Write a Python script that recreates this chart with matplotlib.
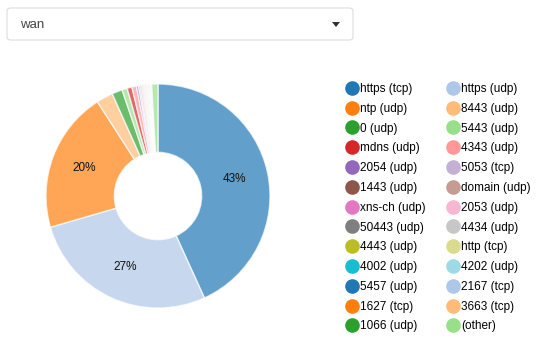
import matplotlib.pyplot as plt
from matplotlib.lines import Line2D
from matplotlib.patches import FancyBboxPatch, Polygon

plt.rcParams['font.family'] = ['Liberation Sans', 'DejaVu Sans']

# --- Data ---
labels = ['https (tcp)', 'https (udp)', 'ntp (udp)', '8443 (udp)', '0 (udp)',
          '5443 (udp)', 'mdns (udp)', '4343 (udp)', '2054 (udp)', '5053 (tcp)',
          '1443 (udp)', 'domain (udp)', 'xns-ch (udp)', '2053 (udp)',
          '50443 (udp)', '4434 (udp)', '4443 (udp)', 'http (tcp)', '4002 (udp)',
          '4202 (udp)', '5457 (udp)', '2167 (tcp)', '1627 (tcp)', '3663 (tcp)',
          '1066 (udp)', '(other)']
shares = [43.2, 27.3, 20.4, 2.4, 1.5, 0.75, 0.7, 0.65, 0.3, 0.25, 0.2, 0.2,
          0.15, 0.15, 0.12, 0.12, 0.1, 0.1, 0.1, 0.08, 0.08, 0.07, 0.06, 0.06,
          0.05, 0.9]
selected = 'wan'

cmap = plt.get_cmap('tab20')
colors = [cmap(i % 20) for i in range(len(labels))]

fig = plt.figure(figsize=(5.36, 3.40), dpi=100)

# --- Dropdown box ---
fig.patches.append(FancyBboxPatch((7 / 536, 1 - 40 / 340), 346 / 536, 32 / 340,
                                  boxstyle='round,pad=0,rounding_size=0.008',
                                  transform=fig.transFigure, facecolor='white',
                                  edgecolor='#dddddd', linewidth=0.8))
fig.text(20 / 536, 1 - 25 / 340, selected, fontsize=9.5, color='#444444',
         va='center', ha='left')
fig.patches.append(Polygon([(332 / 536, 1 - 22 / 340), (340 / 536, 1 - 22 / 340),
                            (336 / 536, 1 - 27 / 340)], closed=True,
                           transform=fig.transFigure, facecolor='#333333',
                           edgecolor='none'))

# --- Donut ---
ax = fig.add_axes([46 / 536, 32 / 340, 224 / 536, 224 / 340])


def pct(p):
    return f'{p:.0f}%' if p > 5 else ''


wedges, texts, autotexts = ax.pie(
    shares, colors=colors, startangle=90, counterclock=False,
    autopct=pct, pctdistance=0.70,
    wedgeprops=dict(width=0.61, edgecolor='white', linewidth=1, alpha=0.7),
    textprops=dict(fontsize=8.5, color='#111111'))
ax.set_xlim(-1, 1)
ax.set_ylim(-1, 1)
ax.set_aspect('equal')

# --- Legend (row-wise order, two columns) ---
handles = [Line2D([], [], marker='o', linestyle='none', markersize=9.5,
                  markerfacecolor=c, markeredgecolor=c) for c in colors]
order = list(range(0, len(labels), 2)) + list(range(1, len(labels), 2))
fig.legend([handles[i] for i in order], [labels[i] for i in order],
           ncol=2, loc='upper left', bbox_to_anchor=(347 / 536, 1 - 83 / 340),
           frameon=False, fontsize=8.5, handlelength=0.8, handletextpad=0.3,
           columnspacing=1.9, labelspacing=0.66, borderaxespad=0, borderpad=0)

plt.savefig('out.png', dpi=100)
